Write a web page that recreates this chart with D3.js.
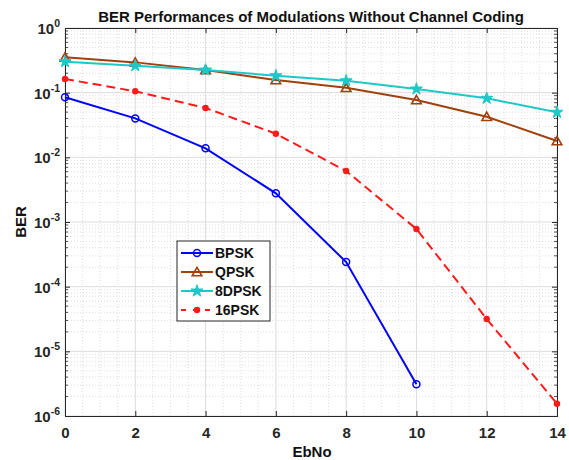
<!DOCTYPE html>
<html><head><meta charset="utf-8">
<script src="https://cdn.jsdelivr.net/npm/d3@7"></script>
<style>body{margin:0;background:#fff;font-family:"Liberation Sans",Arial,sans-serif;}</style>
</head><body><svg id="c" width="569" height="460"></svg>
<script>
const ebno = [0,2,4,6,8,10,12,14];
const bpsk = [0.0848,0.040,0.0138,0.00278,2.4e-4,3.1e-6];
const qpsk = [0.352,0.294,0.224,0.157,0.119,0.077,0.0425,0.0179];
const dpsk8 = [0.301,0.261,0.224,0.183,0.153,0.114,0.0818,0.0497];
const psk16 = [0.163,0.105,0.058,0.0232,0.00615,7.8e-4,3.16e-5,1.55e-6];
const xTicks = [0,2,4,6,8,10,12,14];
const yExps = [0,-1,-2,-3,-4,-5,-6];
const names = ["BPSK","QPSK","8DPSK","16PSK"];

const svg = d3.select("#c");
const L=65,R=557,T=28,B=416;
const x = d3.scaleLinear().domain([0,14]).range([L,R]);
const y = d3.scaleLog().domain([1e-6,1]).range([B,T]);
const axisCol="#262626";

// minor grid
const g = svg.append("g");
const minorY=[];
for(let e=-6;e<0;e++) for(let m=2;m<=9;m++) minorY.push(m*Math.pow(10,e));
g.selectAll(".my").data(minorY).enter().append("line")
 .attr("x1",L).attr("x2",R).attr("y1",d=>y(d)).attr("y2",d=>y(d))
 .attr("stroke","#c8c8c8").attr("stroke-width",0.6).attr("stroke-dasharray","1,2");
const minorX=d3.range(0,14.01,0.5).filter(v=>v%2!==0);
g.selectAll(".mx").data(minorX).enter().append("line")
 .attr("y1",T).attr("y2",B).attr("x1",d=>x(d)).attr("x2",d=>x(d))
 .attr("stroke","#c8c8c8").attr("stroke-width",0.6).attr("stroke-dasharray","1,2");
// major grid
g.selectAll(".gy").data(yExps).enter().append("line")
 .attr("x1",L).attr("x2",R).attr("y1",d=>y(Math.pow(10,d))).attr("y2",d=>y(Math.pow(10,d)))
 .attr("stroke","#dcdcdc").attr("stroke-width",1);
g.selectAll(".gx").data(xTicks).enter().append("line")
 .attr("y1",T).attr("y2",B).attr("x1",d=>x(d)).attr("x2",d=>x(d))
 .attr("stroke","#dcdcdc").attr("stroke-width",1);

// axes
const xa = svg.append("g").attr("transform",`translate(0,${B})`)
 .call(d3.axisBottom(x).tickValues(xTicks).tickSize(-5).tickPadding(11).tickFormat(d3.format("d")));
const xt = svg.append("g").attr("transform",`translate(0,${T})`)
 .call(d3.axisTop(x).tickValues(xTicks).tickSize(-5).tickFormat(""));
const ya = svg.append("g").attr("transform",`translate(${L},0)`)
 .call(d3.axisLeft(y).tickValues(yExps.map(e=>Math.pow(10,e))).tickSize(-5).tickFormat(""));
const yr = svg.append("g").attr("transform",`translate(${R},0)`)
 .call(d3.axisRight(y).tickValues(yExps.map(e=>Math.pow(10,e))).tickSize(-5).tickFormat(""));
[xa,xt,ya,yr].forEach(a=>{a.select(".domain").attr("stroke",axisCol).attr("stroke-width",1);
 a.selectAll(".tick line").attr("stroke",axisCol);});
xa.selectAll(".tick text").attr("fill",axisCol).style("font-size","15px").style("font-weight","bold")
 .style("font-family","Liberation Sans, Arial, sans-serif");
// minor ticks on y
[[L,1],[R,-1]].forEach(([px,s])=>{
 svg.selectAll(null).data(minorY).enter().append("line")
  .attr("x1",px).attr("x2",px+s*3).attr("y1",d=>y(d)).attr("y2",d=>y(d))
  .attr("stroke",axisCol).attr("stroke-width",0.8);
});
// y tick labels
const yl = svg.append("g");
yExps.forEach(e=>{
 const t = yl.append("text").attr("x",L-5).attr("y",y(Math.pow(10,e))+6)
  .attr("text-anchor","end").attr("fill",axisCol)
  .style("font-size","15px").style("font-weight","bold");
 t.append("tspan").text("10");
 t.append("tspan").attr("dy",-7).style("font-size","10.5px").text(String(e));
});

// title and labels
svg.append("text").attr("x",311).attr("y",22).attr("text-anchor","middle")
 .style("font-size","15px").style("font-weight","bold").attr("fill","#111")
 .text("BER Performances of Modulations Without Channel Coding");
svg.append("text").attr("x",312).attr("y",457).attr("text-anchor","middle")
 .style("font-size","15px").style("font-weight","bold").attr("fill","#111").text("EbNo");
svg.append("text").attr("transform",`translate(26,${(T+B)/2}) rotate(-90)`).attr("text-anchor","middle")
 .style("font-size","15px").style("font-weight","bold").attr("fill","#111").text("BER");

// series
const series=[
 {name:names[0],vals:bpsk,color:"#0000ff",dash:null,marker:"circle"},
 {name:names[1],vals:qpsk,color:"#a0400c",dash:null,marker:"triangle"},
 {name:names[2],vals:dpsk8,color:"#1ec8c8",dash:null,marker:"star"},
 {name:names[3],vals:psk16,color:"#ff1a1a",dash:"9,5",marker:"dot"}
];
const line=d3.line().x(d=>x(d[0])).y(d=>y(d[1]));
function drawMarker(sel,type,color,cx,cy){
 if(type==="circle") sel.append("circle").attr("cx",cx).attr("cy",cy).attr("r",3.5)
   .attr("fill","none").attr("stroke",color).attr("stroke-width",1.5);
 else if(type==="triangle") sel.append("path").attr("d",d3.symbol(d3.symbolTriangle,40)())
   .attr("transform",`translate(${cx},${cy+1})`).attr("fill","none").attr("stroke",color).attr("stroke-width",1.6);
 else if(type==="star") sel.append("path").attr("d",d3.symbol(d3.symbolStar,45)())
   .attr("transform",`translate(${cx},${cy})`).attr("fill",color).attr("stroke",color).attr("stroke-width",1);
 else sel.append("circle").attr("cx",cx).attr("cy",cy).attr("r",3.2).attr("fill",color);
}
const plot=svg.append("g");
series.forEach(s=>{
 const pts=s.vals.map((v,i)=>[ebno[i],v]);
 plot.append("path").datum(pts).attr("d",line).attr("fill","none").attr("stroke",s.color)
  .attr("stroke-width",2).attr("stroke-dasharray",s.dash);
 pts.forEach(p=>drawMarker(plot,s.marker,s.color,x(p[0]),y(p[1])));
});

// legend
const lg=svg.append("g");
lg.append("rect").attr("x",177).attr("y",241).attr("width",93).attr("height",80)
 .attr("fill","#fff").attr("stroke","#262626").attr("stroke-width",1);
series.forEach((s,i)=>{
 const yy=253+i*19;
 lg.append("line").attr("x1",181).attr("x2",213).attr("y1",yy).attr("y2",yy)
  .attr("stroke",s.color).attr("stroke-width",2).attr("stroke-dasharray",s.dash?"5,7":null);
 drawMarker(lg,s.marker,s.color,197,yy);
 lg.append("text").attr("x",215).attr("y",yy+5).style("font-size","14px").style("font-weight","bold")
  .attr("fill","#111").text(s.name);
});
</script></body></html>
